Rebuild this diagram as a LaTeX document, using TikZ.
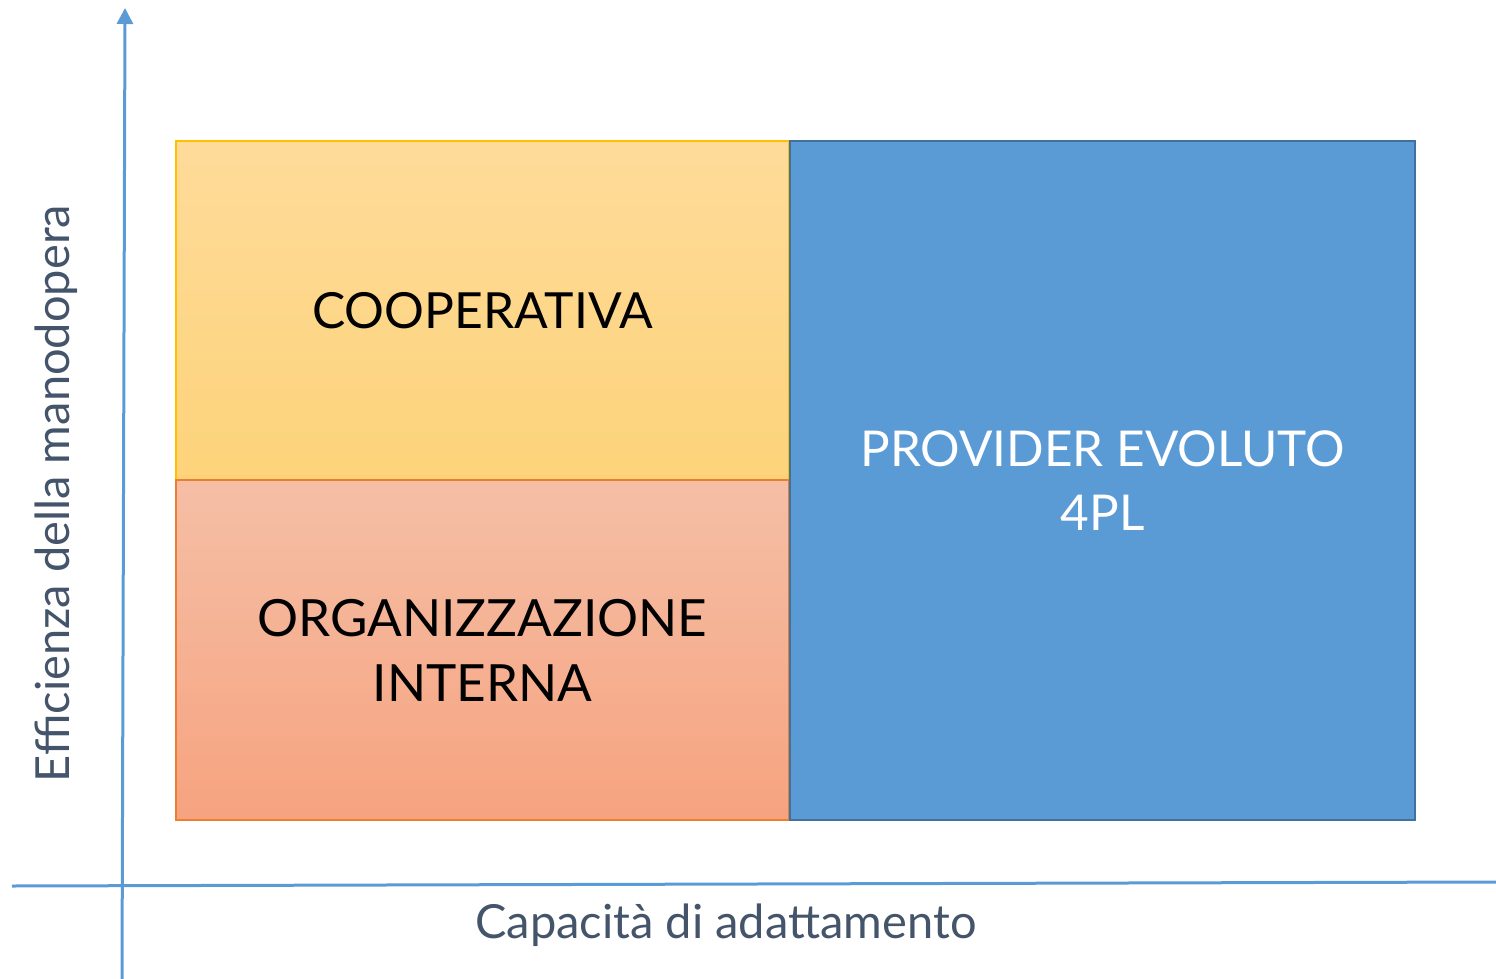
\documentclass[tikz,border=0pt]{standalone}
\usepackage{fontspec}
\setmainfont{Lato}
\usetikzlibrary{arrows.meta}
\definecolor{axisblue}{HTML}{5B9BD5}
\definecolor{labelgray}{HTML}{44546A}
\definecolor{yeltop}{RGB}{254,219,154}
\definecolor{yelbot}{RGB}{253,211,122}
\definecolor{yelline}{HTML}{FFC000}
\definecolor{pinktop}{RGB}{245,191,166}
\definecolor{pinkbot}{RGB}{246,163,127}
\definecolor{pinkline}{HTML}{ED7D31}
\definecolor{bluefill}{RGB}{91,155,213}
\definecolor{blueline}{RGB}{65,113,156}
\tikzset{
  quad/.style={inner sep=0pt, outer sep=0pt, align=center},
  axislabel/.style={font=\fontsize{47}{56}\selectfont, text=labelgray, inner sep=0pt},
  axisline/.style={draw=axisblue, line width=3pt}
}
\begin{document}
\begin{tikzpicture}[x=1pt,y=-1pt]
\useasboundingbox (0,0) rectangle (1496,979);
\node[quad, font=\fontsize{49.8}{65}\selectfont, minimum width=613pt, minimum height=339pt, top color=yeltop, bottom color=yelbot, draw=yelline, line width=1.5pt] (coop) at (482.5,310.5) {COOPERATIVA};
\node[quad, font=\fontsize{51.3}{65}\selectfont, minimum width=613pt, minimum height=340pt, top color=pinktop, bottom color=pinkbot, draw=pinkline, line width=1.5pt] (org) at (482.5,650) {ORGANIZZAZIONE\\INTERNA};
\node[quad, font=\fontsize{49.4}{64}\selectfont, minimum width=625pt, minimum height=679pt, fill=bluefill, draw=blueline, line width=2pt, text=white] (prov) at (1102.5,480.5) {PROVIDER EVOLUTO\\4PL};
\coordinate (xs) at (12,886);
\coordinate (xe) at (1496,882);
\coordinate (ys) at (122,979);
\coordinate (ye) at (125,8);
\draw[axisline] (xs) -- (xe);
\draw[axisline, -{Triangle[length=16pt,width=16pt]}] (ys) -- (ye);
\node[axislabel] (xl) at (726,925) {Capacità di adattamento};
\node[axislabel, rotate=90] (yl) at (56,493.5) {Efficienza della manodopera};
\end{tikzpicture}
\end{document}
